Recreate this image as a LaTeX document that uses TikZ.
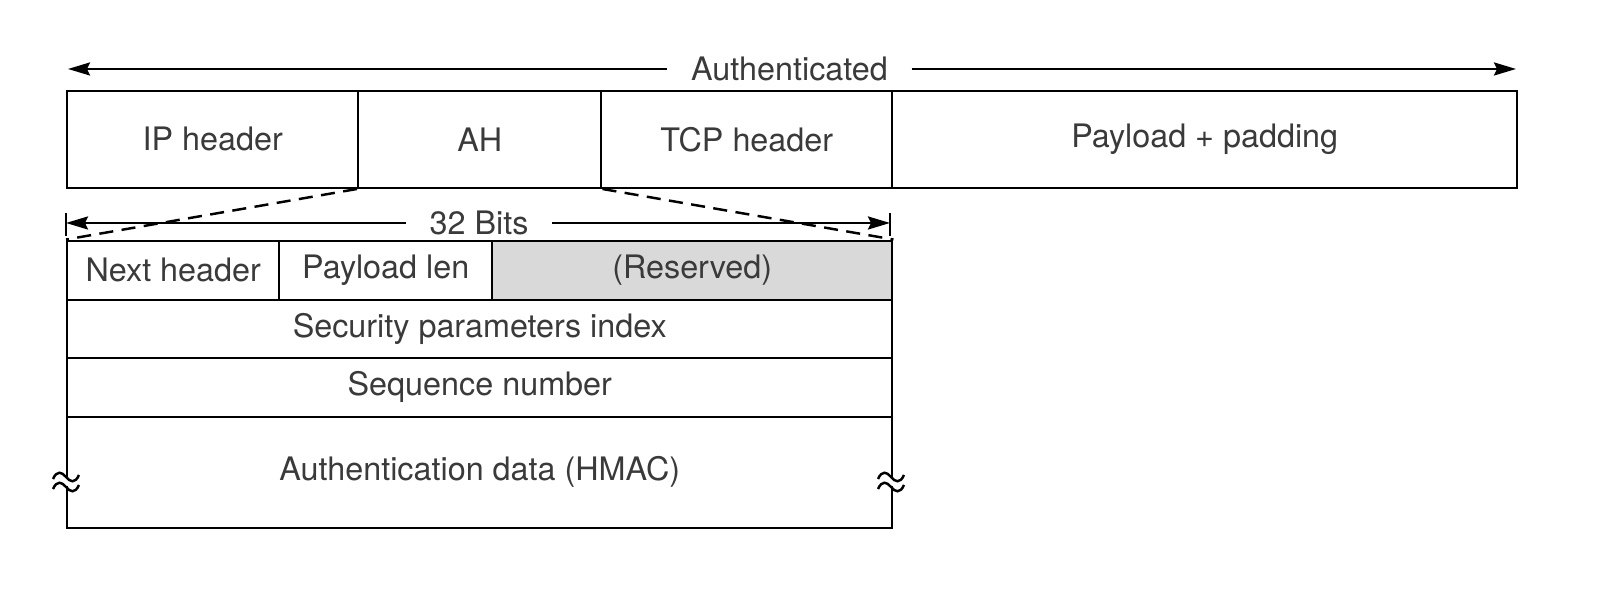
\documentclass[tikz,border=0pt]{standalone}
\usepackage{fontspec}
\setmainfont{TeX Gyre Heros}
\usetikzlibrary{arrows.meta}
\definecolor{txtgray}{HTML}{3A3A3A}
\definecolor{resgray}{HTML}{D9D9D9}
\tikzset{
  field/.style={draw, line width=0.7pt, inner sep=0, anchor=south west,
    text=txtgray, font=\fontsize{9.2}{11}\selectfont},
  lbl/.style={inner ysep=0, inner xsep=0.23cm, text=txtgray,
    font=\fontsize{9.2}{11}\selectfont},
  arr/.style={-{Stealth[length=2.2mm, width=1.3mm, inset=0.3mm]}, line width=0.7pt}
}
\begin{document}
\begin{tikzpicture}
    \useasboundingbox (0,0) rectangle (16,5.93);
    \def\rowtop{4.04}
    \def\th{0.97}
    \def\rh{0.59}
    % packet
    \node [field, minimum width=2.91cm, minimum height=\th cm] (ip) at (0.66,\rowtop) {IP header};
    \node [field, minimum width=2.43cm, minimum height=\th cm] (ah) at (3.57,\rowtop) {AH};
    \node [field, minimum width=2.91cm, minimum height=\th cm] (tcp) at (6.00,\rowtop) {TCP header};
    \node [field, minimum width=6.25cm, minimum height=\th cm] (pay) at (8.91,\rowtop) {Payload + padding};
    \node [lbl] (auth) at (7.895,5.24) {Authenticated};
    \coordinate (authL) at (0.68,5.24);
    \coordinate (authR) at (15.16,5.24);
    \draw [arr] (auth.west) -- (authL);
    \draw [arr] (auth.east) -- (authR);
    % AH layout
    \node [field, minimum width=2.12cm, minimum height=\rh cm] (nxt) at (0.66,2.92) {Next header};
    \node [field, minimum width=2.13cm, minimum height=\rh cm] (len) at (2.78,2.92) {Payload len};
    \node [field, fill=resgray, minimum width=4.00cm, minimum height=\rh cm] (res) at (4.91,2.92) {(Reserved)};
    \node [field, minimum width=8.25cm, minimum height=0.58cm] (spi) at (0.66,2.34) {Security parameters index};
    \node [field, minimum width=8.25cm, minimum height=\rh cm] (seq) at (0.66,1.75) {Sequence number};
    \node [field, minimum width=8.25cm, minimum height=1.11cm] (hmac) at (0.66,0.64) {Authentication data (HMAC)};
    \draw [dashed, dash pattern=on 4pt off 2.4pt, line width=0.7pt] (ah.south west) -- (nxt.north west);
    \draw [dashed, dash pattern=on 4pt off 2.4pt, line width=0.7pt] (ah.south east) -- (res.north east);
    \node [lbl] (bits) at (4.79,3.70) {32 Bits};
    \coordinate (bitsL) at (0.66,3.70);
    \coordinate (bitsR) at (8.90,3.70);
    \draw [arr] (bits.west) -- (bitsL);
    \draw [arr] (bits.east) -- (bitsR);
    \draw [line width=0.7pt] ([yshift=0.1cm]bitsL) -- ([yshift=-0.13cm]bitsL);
    \draw [line width=0.7pt] ([yshift=0.1cm]bitsR) -- ([yshift=-0.13cm]bitsR);
    % breaks
    \foreach \bx in {0.66,8.91} {
        \fill [white] (\bx-0.04,1.07) rectangle (\bx+0.04,1.15);
        \foreach \by in {1.06,1.16}
            \draw [line width=0.7pt] (\bx-0.13,\by-0.02) .. controls (\bx-0.09,\by+0.07) and (\bx-0.04,\by+0.05) .. (\bx,\by) .. controls (\bx+0.04,\by-0.05) and (\bx+0.09,\by-0.07) .. (\bx+0.13,\by+0.02);
    }
\end{tikzpicture}
\end{document}
